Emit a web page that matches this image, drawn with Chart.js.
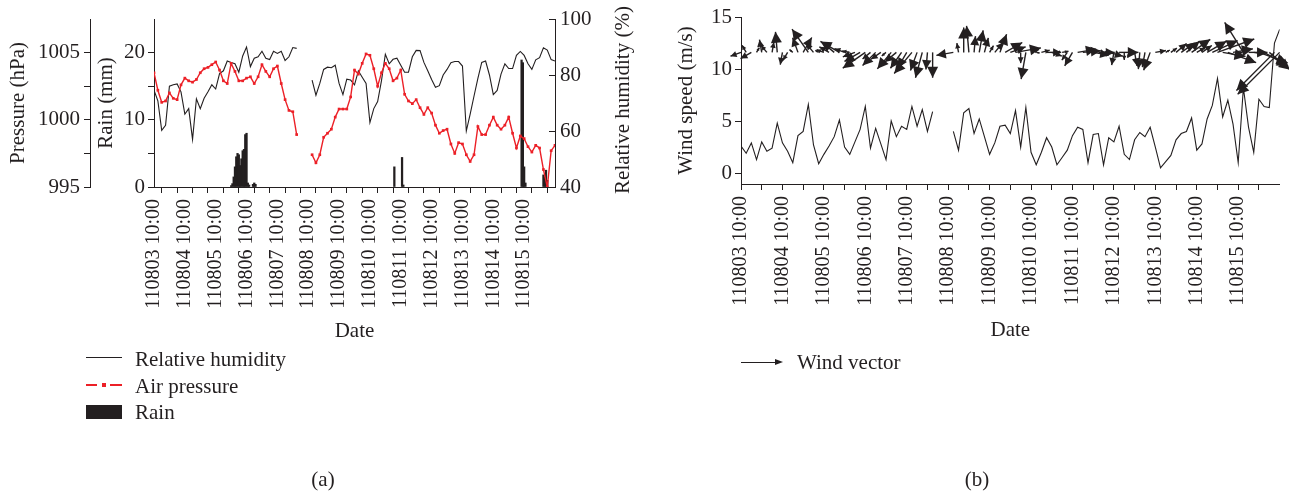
<!DOCTYPE html>
<html>
<head>
<meta charset="utf-8">
<script src="https://cdn.jsdelivr.net/npm/chart.js@4.4.0/dist/chart.umd.min.js"></script>
<style>
  body { margin: 0; background: #fff; width: 1289px; height: 491px; position: relative; overflow: hidden;
         font-family: "Liberation Serif", "DejaVu Serif", serif; color: #231f20; }
  canvas { position: absolute; top: 0; }
  #chartA { left: 0; }
  #chartB { left: 668px; }
  .txt { position: absolute; font-size: 21px; line-height: 24px; white-space: nowrap; }
  .mark { position: absolute; }
</style>
</head>
<body>
<canvas id="chartA" width="640" height="491"></canvas>
<canvas id="chartB" width="621" height="491"></canvas>

<div class="txt" id="rhTitle" style="left:522px; top:88px; width:200px; text-align:center; transform:rotate(-90deg);">Relative humidity (%)</div>

<div class="mark" style="left:86px; top:357px; width:36px; height:1.3px; background:#231f20;"></div>
<div class="txt" style="left:135px; top:347px;">Relative humidity</div>
<div class="mark" style="left:86px; top:384px; width:11px; height:1.5px; background:#ec2027;"></div>
<div class="mark" style="left:102px; top:383px; width:3.5px; height:3.5px; background:#ec2027;"></div>
<div class="mark" style="left:110px; top:384px; width:12px; height:1.5px; background:#ec2027;"></div>
<div class="txt" style="left:135px; top:374px;">Air pressure</div>
<div class="mark" style="left:86px; top:405px; width:36px; height:14px; background:#231f20;"></div>
<div class="txt" style="left:135px; top:400px;">Rain</div>

<div class="mark" style="left:741px; top:361.5px; width:36px; height:1.3px; background:#231f20;"></div>
<div class="mark" style="left:775px; top:359px; width:0; height:0; border-left:8px solid #231f20; border-top:3px solid transparent; border-bottom:3px solid transparent;"></div>
<div class="txt" style="left:797px; top:350px;">Wind vector</div>

<div class="txt" style="left:293px; top:467px; width:60px; text-align:center;">(a)</div>
<div class="txt" style="left:947px; top:467px; width:60px; text-align:center;">(b)</div>

<script>
// time axis: hours since 110803 10:00, one reading every 3 h
const stepHours = 3;
const dayLabels = ['110803 10:00', '110804 10:00', '110805 10:00', '110806 10:00', '110807 10:00',
  '110808 10:00', '110809 10:00', '110810 10:00', '110811 10:00', '110812 10:00',
  '110813 10:00', '110814 10:00', '110815 10:00'];

const humidity = [74.6, 70.8, 60.2, 62.0, 76.0, 76.5, 76.8, 74.0, 66.0, 68.0,
  57.0, 71.5, 68.0, 71.7, 74.0, 76.5, 75.0, 80.5, 81.5, 85.0,
  84.5, 84.0, 81.0, 86.8, 90.0, 83.0, 86.0, 86.5, 88.5, 86.0,
  85.5, 88.5, 87.7, 88.5, 85.2, 86.5, 89.8, 89.5, null, null,
  null, 78.2, 72.8, 77.0, 82.0, 82.8, 82.6, 83.5, 77.0, 73.0,
  78.5, 78.2, 76.5, 81.5, 79.2, 77.0, 63.0, 68.0, 70.5, 78.0,
  87.4, 84.0, 85.6, 86.0, 83.5, 81.0, 81.0, 86.5, 88.8, 88.7,
  84.5, 81.5, 78.4, 75.6, 76.2, 80.0, 82.0, 84.4, 84.8, 84.8,
  83.2, 60.0, 66.0, 72.5, 78.8, 84.5, 85.0, 80.0, 73.0, 74.5,
  80.3, 84.0, 82.3, 82.3, 87.0, 88.4, 87.0, 84.0, 82.0, 85.4,
  86.2, 89.7, 88.9, 85.5, 85.0];

const pressure = [1003.5, 1002.2, 1001.3, 1001.4, 1002.0, 1001.6, 1001.5, 1002.6, 1003.1, 1002.9,
  1002.8, 1003.0, 1003.5, 1003.8, 1003.9, 1004.1, 1004.3, 1003.7, 1002.9, 1002.7,
  1004.2, 1003.6, 1002.9, 1002.9, 1003.1, 1003.2, 1002.7, 1003.2, 1004.1, 1003.6,
  1003.2, 1003.8, 1004.0, 1002.7, 1001.5, 1000.7, 1000.6, 998.9, null, null,
  null, 997.4, 996.8, 997.4, 998.7, 999.0, 999.3, 1000.2, 1000.8, 1000.8,
  1000.8, 1001.7, 1003.7, 1003.4, 1004.2, 1004.9, 1004.8, 1003.8, 1002.5, 1003.5,
  1004.2, 1003.8, 1002.9, 1003.1, 1003.7, 1001.9, 1001.4, 1001.2, 1001.5, 1000.9,
  1000.4, 1000.9, 1000.5, 999.6, 999.0, 999.2, 999.3, 998.2, 997.5, 998.3,
  998.2, 997.4, 996.9, 997.4, 999.5, 998.9, 998.9, 999.6, 1000.2, 999.6,
  999.3, 999.6, 1000.2, 999.0, 997.9, 998.8, 998.6, 998.0, 997.6, 998.1,
  997.9, 996.3, 995.0, 997.7, 998.1];

// rain is hourly and sparse: hour since start, mm
const rainHours = [60, 61, 62, 63, 64, 65, 66, 67, 68, 69, 70, 71, 72, 73, 74, 77, 78, 79,
  187, 193, 194, 286, 287, 288, 289, 303, 304, 305, 306];
const rainMm = [0.2, 0.5, 1.5, 3.0, 4.5, 5.0, 4.8, 3.2, 4.2, 5.4, 5.6, 7.8, 8.0, 0.6, 0.3, 0.4, 0.6, 0.4,
  3.0, 4.4, 0.3, 18.9, 18.5, 3.0, 0.6, 1.8, 1.5, 2.5, 1.0];

const windSpeed = [2.6, 1.9, 2.9, 1.3, 3.0, 2.1, 2.4, 4.8, 2.9, 2.1,
  1.0, 3.6, 4.0, 6.6, 2.7, 0.9, 1.8, 2.6, 3.5, 5.1,
  2.5, 1.8, 3.0, 4.2, 6.4, 2.4, 4.3, 2.8, 1.3, 5.0,
  3.5, 4.5, 4.2, 6.4, 4.5, 6.1, 4.0, 5.9, null, null,
  null, 4.0, 2.2, 5.8, 6.2, 3.8, 5.2, 3.5, 1.8, 2.9,
  4.5, 4.6, 3.8, 6.0, 2.5, 6.3, 2.0, 0.8, 2.0, 3.4,
  2.5, 0.8, 1.5, 2.2, 3.6, 4.4, 4.2, 1.0, 3.7, 3.8,
  0.8, 3.4, 3.0, 4.5, 1.8, 1.3, 3.2, 3.9, 3.5, 4.4,
  2.5, 0.5, 1.1, 1.7, 3.2, 3.8, 4.0, 5.3, 2.2, 2.8,
  5.2, 6.5, 9.1, 5.4, 7.0, 4.7, 1.0, 8.2, 4.4, 2.0,
  7.1, 6.4, 6.3, 12.5, 13.8];

// direction the arrow points, degrees counter-clockwise from east
const windDir = [200, 120, 210, 60, 100, 130, 80, 95, 260, 240,
  140, 110, 60, 125, 130, 150, 160, 150, 140, 150,
  160, 170, 200, 210, 215, 220, 225, 215, 220, 230,
  220, 235, 240, 230, 250, 255, 265, 270, null, null,
  null, 190, 100, 90, 95, 85, 80, 75, 60, 50,
  70, 30, 20, 10, 270, 260, 20, 350, 15, 0,
  340, 20, 10, 235, 240, 10, 5, 15, 350, 0,
  10, 345, 260, 0, 270, 250, 280, 265, 260, 250,
  10, 20, 30, 35, 40, 35, 40, 35, 30, 35,
  30, 25, 20, 350, 340, 10, 0, 122, 0, 350,
  340, 330, 320, 225, 225];

const windBase = 11.6;   // wind speed value where the arrow tails sit
const arrowScale = 4.3;  // px per m/s

const hours = humidity.map((v, i) => i * stepHours);
const ink = '#231f20';
const red = '#ec2027';

Chart.defaults.font.family = '"Liberation Serif", "DejaVu Serif", serif';
Chart.defaults.color = ink;

function timeAxis(height) {
  return {
    type: 'linear', min: 0, max: 312, offset: false,
    afterBuildTicks: s => {
      s.ticks = [];
      for (let h = 0; h <= 300; h += 12) s.ticks.push({ value: h });
    },
    ticks: {
      autoSkip: false, maxRotation: 90, minRotation: 90, padding: 6,
      font: { size: 20 },
      callback: v => v % 24 === 0 ? dayLabels[v / 24] : ''
    },
    grid: { drawOnChartArea: false, tickLength: 6, color: ink },
    border: { color: ink, width: 1 },
    title: { display: true, text: 'Date', font: { size: 21 }, padding: { top: 2, bottom: 4 } },
    afterFit: s => { s.height = height; }
  };
}

function valueAxis(pos, min, max, tickVals, labelStep, width, title) {
  return {
    position: pos, min: min, max: max,
    afterBuildTicks: s => { s.ticks = tickVals.map(v => ({ value: v })); },
    ticks: {
      font: { size: 21 }, padding: 3,
      callback: v => Math.abs(v % labelStep) < 1e-6 ? String(v) : ''
    },
    grid: { drawOnChartArea: false, tickLength: 6, color: ink },
    border: { color: ink, width: 1 },
    title: { display: !!title, text: title, font: { size: 21 }, padding: { top: 4, bottom: 2 } },
    afterFit: s => { s.width = width; }
  };
}

// RH ticks point into the plot
const inwardTicks = {
  id: 'inwardTicks',
  afterDraw(chart) {
    const s = chart.scales.yH;
    const ctx = chart.ctx;
    ctx.save();
    ctx.strokeStyle = ink;
    ctx.lineWidth = 1;
    s.ticks.forEach(t => {
      const y = Math.round(s.getPixelForValue(t.value)) + 0.5;
      const l = t.value % 20 === 0 ? 6 : 4;
      ctx.beginPath();
      ctx.moveTo(s.left, y);
      ctx.lineTo(s.left - l, y);
      ctx.stroke();
    });
    ctx.restore();
  }
};

const yH = valueAxis('right', 40, 100, [40, 50, 60, 70, 80, 90, 100], 20, 85, '');
yH.grid.drawTicks = false;
yH.ticks.padding = 5;

const yP = valueAxis('left', 995, 1007.5, [995, 997.5, 1000, 1002.5, 1005], 5, 88, 'Pressure (hPa)');
yP.weight = 2;
yP.ticks.padding = 4;
const yR = valueAxis('left', 0, 25, [0, 5, 10, 15, 20], 10, 64, 'Rain (mm)');
yR.weight = 1;

new Chart(document.getElementById('chartA'), {
  type: 'line',
  data: {
    datasets: [
      {
        label: 'Air pressure',
        data: hours.map((h, i) => ({ x: h, y: pressure[i] })),
        yAxisID: 'yP',
        borderColor: red,
        borderWidth: 1.4,
        pointStyle: 'rect',
        pointRadius: 1.9,
        pointBackgroundColor: red,
        pointBorderWidth: 0,
        tension: 0
      },
      {
        label: 'Relative humidity',
        data: hours.map((h, i) => ({ x: h, y: humidity[i] })),
        yAxisID: 'yH',
        borderColor: ink,
        borderWidth: 1.1,
        pointRadius: 0,
        tension: 0
      },
      {
        type: 'bar',
        label: 'Rain',
        data: rainHours.map((h, i) => ({ x: h, y: rainMm[i] })),
        yAxisID: 'yR',
        backgroundColor: ink,
        barThickness: 1.6,
        categoryPercentage: 1,
        barPercentage: 1
      }
    ]
  },
  options: {
    responsive: false,
    animation: false,
    layout: { padding: { top: 19, right: 0, bottom: 143, left: 2 } },
    plugins: { legend: { display: false }, tooltip: { enabled: false } },
    scales: { x: timeAxis(161), yP: yP, yR: yR, yH: yH }
  },
  plugins: [inwardTicks]
});

const windArrows = {
  id: 'windArrows',
  afterDatasetsDraw(chart) {
    const ctx = chart.ctx;
    const xs = chart.scales.x, ys = chart.scales.y;
    const y0 = ys.getPixelForValue(windBase);
    ctx.save();
    ctx.strokeStyle = ink;
    ctx.fillStyle = ink;
    ctx.lineWidth = 1.4;
    windSpeed.forEach((s, i) => {
      if (s === null || windDir[i] === null) return;
      const a = windDir[i] * Math.PI / 180;
      const len = s * arrowScale;
      const x0 = xs.getPixelForValue(hours[i]);
      const x1 = x0 + len * Math.cos(a), y1 = y0 - len * Math.sin(a);
      ctx.beginPath();
      ctx.moveTo(x0, y0);
      ctx.lineTo(x1, y1);
      ctx.stroke();
      const hl = Math.min(11, len * 0.55), hw = hl * 0.5;
      const bx = x1 - hl * Math.cos(a), by = y1 + hl * Math.sin(a);
      const px = Math.sin(a) * hw, py = Math.cos(a) * hw;
      ctx.beginPath();
      ctx.moveTo(x1, y1);
      ctx.lineTo(bx + px, by + py);
      ctx.lineTo(bx - px, by - py);
      ctx.closePath();
      ctx.fill();
    });
    ctx.restore();
  }
};

new Chart(document.getElementById('chartB'), {
  type: 'line',
  data: {
    datasets: [{
      label: 'Wind speed',
      data: hours.map((h, i) => ({ x: h, y: windSpeed[i] })),
      borderColor: ink,
      borderWidth: 1.1,
      pointRadius: 0,
      tension: 0
    }]
  },
  options: {
    responsive: false,
    animation: false,
    layout: { padding: { top: 17, right: 2, bottom: 144, left: 2 } },
    plugins: { legend: { display: false }, tooltip: { enabled: false } },
    scales: {
      x: timeAxis(163),
      y: valueAxis('left', -1.05, 15, [0, 2.5, 5, 7.5, 10, 12.5, 15], 5, 71, 'Wind speed (m/s)')
    }
  },
  plugins: [windArrows]
});
</script>
</body>
</html>
